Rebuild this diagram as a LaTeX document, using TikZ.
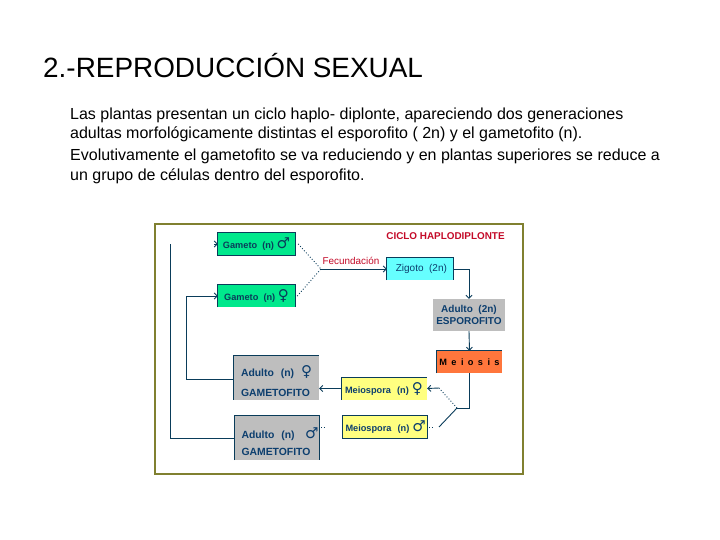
\documentclass[tikz,border=0pt]{standalone}
\usepackage{fontspec}
\setmainfont{Liberation Sans}
\newfontfamily\symbfont{DejaVu Sans}
\usetikzlibrary{arrows.meta,positioning,calc}

\definecolor{framecol}{RGB}{128,128,48}
\definecolor{linecol}{RGB}{10,60,90}
\definecolor{labelcol}{RGB}{12,62,110}
\definecolor{redcol}{RGB}{196,10,40}
\definecolor{greencol}{RGB}{0,232,140}
\definecolor{cyancol}{RGB}{102,255,255}
\definecolor{graycol}{RGB}{190,190,190}
\definecolor{orangecol}{RGB}{255,118,60}
\definecolor{yellowcol}{RGB}{255,255,128}

\newcommand{\male}{{\symbfont\fontsize{15}{13}\selectfont\char"2642}}
\newcommand{\female}{{\symbfont\fontsize{15}{13}\selectfont\char"2640}}

\begin{document}
\begin{tikzpicture}[x=1pt, y=-1pt, >={Straight Barb[length=3pt,width=6pt]}]
  \tikzset{
    slide line/.style={anchor=base west, inner sep=0pt, font=\fontsize{16}{19}\selectfont},
    box/.style={rectangle, inner sep=0pt, align=left, text=labelcol,
      font=\fontsize{9.2}{12}\selectfont\bfseries},
    gamete/.style={box, fill=greencol, minimum width=77pt, minimum height=22pt, text=linecol},
    adult/.style={box, fill=graycol, inner xsep=7pt, text width=71pt, minimum height=44pt,
      font=\fontsize{10.4}{12}\selectfont\bfseries},
    spore/.style={box, fill=yellowcol, inner xsep=3pt, text width=79pt, minimum height=22pt},
    edge/.style={line width=0.9pt, draw=linecol},
    signal/.style={edge, ->},
    dots/.style={line width=0.9pt, draw=linecol, dotted},
    heading/.style={inner sep=0pt, text=redcol, font=\fontsize{9.9}{10}\selectfont}
  }
  \useasboundingbox (0,0) rectangle (720,540);

  \node[anchor=base west, inner sep=0pt, font=\fontsize{27.9}{32}\selectfont] (title) at (43,78) {2.-REPRODUCCIÓN SEXUAL};
  \node[slide line] (line1) at (70,120) {Las plantas presentan un ciclo haplo- diplonte, apareciendo dos generaciones};
  \node[slide line] (line2) at (70,139) {adultas morfológicamente distintas el esporofito ( 2n) y el gametofito (n).};
  \node[slide line] (line3) at (70,161) {Evolutivamente el gametofito se va reduciendo y en plantas superiores se reduce a};
  \node[slide line] (line4) at (70,181) {un grupo de células dentro del esporofito.};

  \node[draw=framecol, line width=2pt, fill=white, minimum width=368pt, minimum height=250pt, inner sep=0pt] (frame) at (338.5,349) {};

  \node[heading, font=\fontsize{9.9}{10}\selectfont\bfseries] (cycle) at (445.5,236) {CICLO HAPLODIPLONTE};
  \node[gamete] (gamA) at (256.5,244) {Gameto\ \ (n) \male};
  \node[gamete] (gamB) at (256.5,296) {Gameto\ \ (n) \female};
  \node[box, fill=cyancol, minimum width=66pt, minimum height=22pt, font=\fontsize{10}{12}\selectfont] (zyg) at (420,269) {\ Zigoto\ \ (2n)};
  \node[box, fill=graycol, minimum width=72pt, minimum height=32pt, align=center, font=\fontsize{10}{12}\selectfont\bfseries] (adultD) at (469,315) {Adulto\ \ (2n)\\ESPOROFITO};
  \node[box, fill=orangecol, minimum width=65pt, minimum height=22pt, text=black] (meio) at (469.5,362) {M\kern4.4pt e\kern4.4pt i\kern4.4pt o\kern4.4pt s\kern4.4pt i\kern4.4pt s};
  \node[adult] (adultF) at (276.5,377.5) {\mbox{\rule{0pt}{18pt}Adulto\ \ (n)\ \ \female}\\[8pt]GAMETOFITO};
  \node[adult] (adultM) at (277,438) {\mbox{\rule{0pt}{18pt}Adulto\ \ (n)\ \ \ \male}\\[5pt]GAMETOFITO};
  \node[spore] (sporeF) at (384.5,388.5) {\mbox{Meiospora\ \ (n) \female}};
  \node[spore] (sporeM) at (385,427) {\mbox{Meiospora\ \ (n) \male}};

  % cut box outlines
  \draw[edge] (gamA.south west) rectangle (gamA.north east);
  \draw[edge] (gamB.south west) |- (gamB.north east) -- (gamB.south east);
  \draw[edge] (zyg.south west) |- (zyg.north east) -- (zyg.south east);
  \draw[edge] (meio.south west) |- (meio.north east);
  \draw[edge] (adultF.south west) |- (adultF.north east);
  \draw[edge] (adultM.south west) |- (adultM.north east) -- (adultM.south east);
  \draw[edge] (sporeF.south west) |- (sporeF.north east);
  \draw[edge] (sporeM.south west) rectangle (sporeM.north east);

  \coordinate (fec) at (321,269);
  \coordinate (split) at (457,408);
  \coordinate (upF) at (439,388);
  \coordinate (upM) at (439,427);
  \coordinate (topA) at (170.5,244);
  \coordinate (tipA) at (214,244);
  \coordinate (markA) at (429,427);
  \coordinate (markB) at (432,427);
  \coordinate (markC) at (321,427);
  \coordinate (markD) at (324,427);

  \node[heading] (fectext) at (351,261) {Fecundación};

  \draw[dots] (gamA.east) ++(3,0) -- (fec);
  \draw[dots] (gamB.east) ++(2,0) -- (fec);
  \draw[signal] (fec) -- (zyg.west);
  \draw[signal] (zyg.east) -| (adultD.north);
  \draw[signal] (adultD.south) -- (meio.north);
  \draw[edge] (meio.south) |- (split);
  \draw[dots] (split) -- (upF);
  \draw[signal] (upF) -- (sporeF.east);
  \draw[edge] (split) -- (upM);
  \draw[dots] (markA) -- (markB);
  \draw[signal] (sporeF.west) -- (adultF.east |- sporeF.west);
  \draw[dots] (markC) -- (markD);
  \draw[edge] (adultM.west) -| (topA);
  \draw[signal] (tipA) -- (gamA.west);
  \draw[signal] (adultF.west |- 0,379) -| (186,296) -- (gamB.west);
\end{tikzpicture}
\end{document}
